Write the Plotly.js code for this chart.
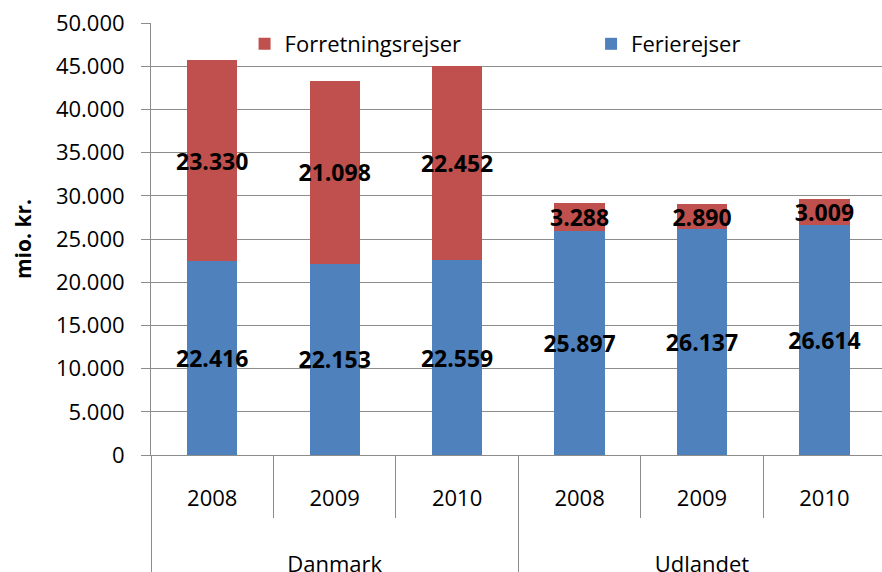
<!DOCTYPE html>
<html>
<head>
<meta charset="utf-8">
<script src="https://cdn.plot.ly/plotly-3.0.1.min.js"></script>
<style>html,body{margin:0;padding:0;background:#fff}#chart{width:882px;height:572px}</style>
</head>
<body>
<div id="chart"></div>
<script>
var groups = ['Danmark','Danmark','Danmark','Udlandet','Udlandet','Udlandet'];
var years = ['2008','2009','2010','2008','2009','2010'];
var ferierejser = [22416, 22153, 22559, 25897, 26137, 26614];
var forretningsrejser = [23330, 21098, 22452, 3288, 2890, 3009];
var yTitle = 'mio. kr.';

function fmt(v){ return String(v).replace(/\B(?=(\d{3})+(?!\d))/g, '.'); }
// push the group level lower on the axis (two empty lines before the name)
var groupLabels = groups.map(function(g){ return '<br><br>' + g; });

var FONT = 'Open Sans, Liberation Sans, sans-serif';
var GRID = '#8c8c8c';

var common = {
  type: 'bar',
  x: [groupLabels, years],
  textposition: 'inside',
  insidetextanchor: 'middle',
  constraintext: 'none',
  textangle: 0,
  textfont: {family: FONT, size: 23, color: '#000', weight: 'bold'},
  hoverinfo: 'skip'
};

var tFerie = Object.assign({}, common, {
  name: 'Ferierejser', y: ferierejser, text: ferierejser.map(fmt),
  marker: {color: '#4F81BD'}, legend: 'legend2'
});
var tForr = Object.assign({}, common, {
  name: 'Forretningsrejser', y: forretningsrejser, text: forretningsrejser.map(fmt),
  marker: {color: '#C0504D'}, legend: 'legend'
});

var legFont = {family: FONT, size: 22, color: '#000'};
var layout = {
  width: 882, height: 572,
  margin: {l: 151, r: 0, t: 23, b: 117},
  barmode: 'stack',
  bargap: 0.59,
  separators: ',.',
  paper_bgcolor: '#fff', plot_bgcolor: '#fff',
  font: {family: FONT, size: 22, color: '#000'},
  showlegend: true,
  legend: {
    orientation: 'h', x: 0.128, xanchor: 'left', y: 1.0, yanchor: 'top',
    bgcolor: 'rgba(0,0,0,0)', font: legFont
  },
  legend2: {
    orientation: 'h', x: 0.602, xanchor: 'left', y: 1.0, yanchor: 'top',
    bgcolor: 'rgba(0,0,0,0)', font: legFont
  },
  xaxis: {
    type: 'multicategory',
    range: [-0.5, 5.47],
    tickson: 'boundaries',
    ticks: 'outside', ticklen: 62, tickcolor: GRID, tickwidth: 1,
    ticklabelstandoff: 24,
    showline: true, linecolor: GRID, linewidth: 1,
    showdividers: true, dividercolor: GRID, dividerwidth: 1,
    showgrid: false, zeroline: false,
    tickfont: {family: FONT, size: 22, color: '#000'}
  },
  yaxis: {
    range: [0, 50000], dtick: 5000, tick0: 0,
    tickformat: ',.0f',
    ticks: 'outside', ticklen: 9, tickcolor: GRID, tickwidth: 1,
    ticklabelstandoff: 12,
    showline: true, linecolor: GRID, linewidth: 1,
    showgrid: true, gridcolor: GRID, gridwidth: 1,
    zeroline: false,
    tickfont: {family: FONT, size: 22, color: '#000'},
    title: {text: yTitle, font: {family: FONT, size: 21, color: '#000', weight: 'bold'}, standoff: 18}
  }
};

Plotly.newPlot('chart', [tFerie, tForr], layout, {staticPlot: true});
</script>
</body>
</html>
